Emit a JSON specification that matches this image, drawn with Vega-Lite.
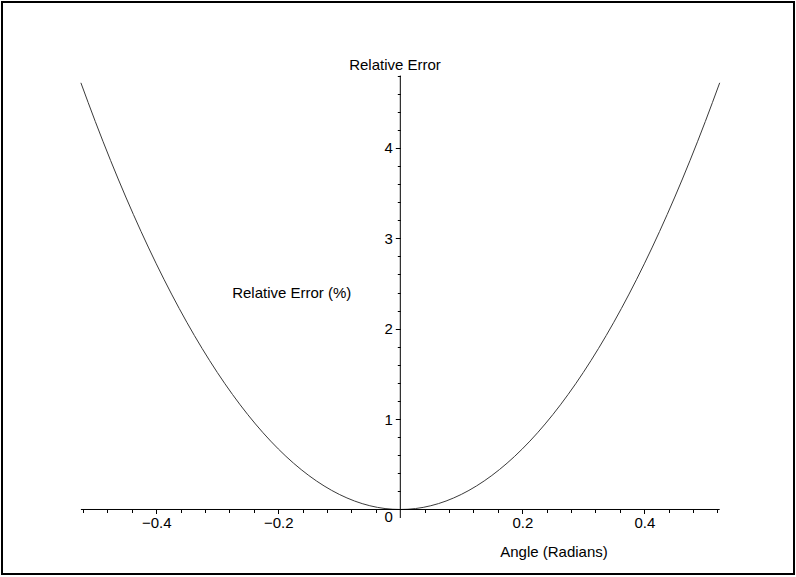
{
  "$schema": "https://vega.github.io/schema/vega-lite/v6.json",
  "width": 792,
  "height": 572,
  "autosize": "none",
  "padding": {"left": 2, "top": 2, "right": 2, "bottom": 3},
  "background": "white",
  "config": {
    "view": {"stroke": "black", "strokeWidth": 2},
    "font": "Liberation Sans",
    "axis": {"labelFont": "Liberation Sans", "labelFontSize": 15, "labelColor": "black", "tickColor": "black", "grid": false, "domain": false, "title": null, "labelOverlap": false, "labelFlush": false}
  },
  "datasets": {
    "curve": [
      {"x": -0.5236, "y": 4.7198}, {"x": -0.5, "y": 4.2915}, {"x": -0.475, "y": 3.8618}, {"x": -0.45, "y": 3.4564},
      {"x": -0.425, "y": 3.0751}, {"x": -0.4, "y": 2.7174}, {"x": -0.375, "y": 2.3828}, {"x": -0.35, "y": 2.0712},
      {"x": -0.325, "y": 1.7824}, {"x": -0.3, "y": 1.5159}, {"x": -0.275, "y": 1.2716}, {"x": -0.25, "y": 1.0493},
      {"x": -0.225, "y": 0.8488}, {"x": -0.2, "y": 0.6698}, {"x": -0.175, "y": 0.5122}, {"x": -0.15, "y": 0.376},
      {"x": -0.125, "y": 0.2609}, {"x": -0.1, "y": 0.1669}, {"x": -0.075, "y": 0.0938}, {"x": -0.05, "y": 0.0417},
      {"x": -0.025, "y": 0.0104}, {"x": 0, "y": 0},
      {"x": 0.025, "y": 0.0104}, {"x": 0.05, "y": 0.0417}, {"x": 0.075, "y": 0.0938}, {"x": 0.1, "y": 0.1669},
      {"x": 0.125, "y": 0.2609}, {"x": 0.15, "y": 0.376}, {"x": 0.175, "y": 0.5122}, {"x": 0.2, "y": 0.6698},
      {"x": 0.225, "y": 0.8488}, {"x": 0.25, "y": 1.0493}, {"x": 0.275, "y": 1.2716}, {"x": 0.3, "y": 1.5159},
      {"x": 0.325, "y": 1.7824}, {"x": 0.35, "y": 2.0712}, {"x": 0.375, "y": 2.3828}, {"x": 0.4, "y": 2.7174},
      {"x": 0.425, "y": 3.0751}, {"x": 0.45, "y": 3.4564}, {"x": 0.475, "y": 3.8618}, {"x": 0.5, "y": 4.2915},
      {"x": 0.5236, "y": 4.7198}
    ],
    "xaxis": [{"x": -0.5236, "x2": 0.5236, "y": 0}],
    "yaxis": [{"x": 0, "y": -0.094, "y2": 4.8}],
    "labels": [
      {"x": -0.0087, "y": 4.917, "text": "Relative Error"},
      {"x": 0.252, "y": -0.472, "text": "Angle (Radians)"},
      {"x": -0.178, "y": 2.397, "text": "Relative Error (%)"}
    ]
  },
  "encoding": {
    "x": {
      "field": "x", "type": "quantitative",
      "scale": {"domain": [-0.65295, 0.64541], "nice": false, "zero": false},
      "axis": {
        "orient": "bottom", "offset": -64.5,
        "values": [-0.52, -0.48, -0.44, -0.4, -0.36, -0.32, -0.28, -0.24, -0.2, -0.16, -0.12, -0.08, -0.04, 0.04, 0.08, 0.12, 0.16, 0.2, 0.24, 0.28, 0.32, 0.36, 0.4, 0.44, 0.48, 0.52],
        "labelExpr": "abs(datum.value*5 - round(datum.value*5)) < 0.000001 ? format(datum.value, '.1f') : ''",
        "tickSize": {"condition": {"test": "abs(datum.value*5 - round(datum.value*5)) < 0.000001", "value": 4}, "value": 3},
        "labelPadding": 2,
        "labelFlush": false,
        "labelOverlap": false
      }
    },
    "y": {
      "field": "y", "type": "quantitative",
      "scale": {"domain": [-0.7135, 5.6139], "nice": false, "zero": false},
      "axis": {
        "orient": "left", "offset": -398.3,
        "values": [0, 0.2, 0.4, 0.6, 0.8, 1, 1.2, 1.4, 1.6, 1.8, 2, 2.2, 2.4, 2.6, 2.8, 3, 3.2, 3.4, 3.6, 3.8, 4, 4.2, 4.4, 4.6, 4.8],
        "labelExpr": "abs(datum.value - round(datum.value)) < 0.000001 ? format(datum.value, 'd') : ''",
        "tickSize": {"condition": {"test": "abs(datum.value - round(datum.value)) < 0.000001", "value": 5}, "value": 3},
        "labelBaseline": {"condition": {"test": "datum.value === 0", "value": "top"}, "value": "middle"},
        "labelPadding": 3,
        "labelFlush": false,
        "labelOverlap": false
      }
    }
  },
  "layer": [
    {
      "data": {"name": "curve"},
      "mark": {"type": "line", "color": "#3a3a3a", "strokeWidth": 1, "interpolate": "monotone"}
    },
    {
      "data": {"name": "xaxis"},
      "mark": {"type": "rule", "color": "black", "strokeWidth": 1},
      "encoding": {"x2": {"field": "x2"}}
    },
    {
      "data": {"name": "yaxis"},
      "mark": {"type": "rule", "color": "black", "strokeWidth": 1},
      "encoding": {"y2": {"field": "y2"}}
    },
    {
      "data": {"name": "labels"},
      "mark": {"type": "text", "font": "Liberation Sans", "fontSize": 15, "color": "black", "align": "center", "baseline": "middle"},
      "encoding": {"text": {"field": "text"}}
    }
  ]
}
